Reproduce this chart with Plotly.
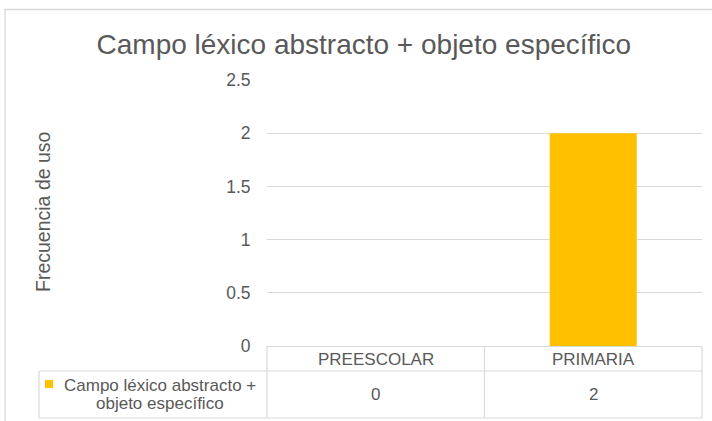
import plotly.graph_objects as go

# data
categories = ["PREESCOLAR", "PRIMARIA"]
values = [0, 2]
series_name = "Campo léxico abstracto + objeto específico"
series_label_lines = ["Campo léxico abstracto +", "objeto específico"]
y_ticks = [0, 0.5, 1, 1.5, 2, 2.5]
y_tick_text = ["0", "0.5", "1", "1.5", "2", "2.5"]

W, H = 712, 421
FONT = "Liberation Sans, Arial, sans-serif"
TXT = "#595959"
GRID = "#d9d9d9"
BAR = "#FFC000"


def px(x):
    return x / W


def py(y):
    return 1 - y / H


fig = go.Figure()
fig.add_trace(go.Bar(
    x=categories, y=values, name=series_name,
    marker=dict(color=BAR, line=dict(width=0)),
    width=0.4, showlegend=False, hoverinfo="x+y",
))

shapes = []
# outer chart border
shapes.append(dict(type="rect", xref="paper", yref="paper",
                   x0=px(5), x1=px(730), y0=py(440), y1=py(9.5),
                   line=dict(color=GRID, width=1.3), layer="below"))

# data table lines
tl = dict(color=GRID, width=1.2)
x_left, x_plot, x_mid, x_right = 39, 267, 484.5, 702
y_top, y_hdr, y_bot = 346.5, 371, 418
for (x0, y0, x1, y1) in [
    (x_plot, y_top, x_right, y_top),
    (x_left, y_hdr, x_right, y_hdr),
    (x_left, y_bot, x_right, y_bot),
    (x_left, y_hdr, x_left, y_bot),
    (x_plot, y_top, x_plot, y_bot),
    (x_mid, y_top, x_mid, y_bot),
    (x_right, y_top, x_right, y_bot),
]:
    shapes.append(dict(type="line", xref="paper", yref="paper",
                       x0=px(x0), x1=px(x1), y0=py(y0), y1=py(y1), line=tl))

# legend key square
shapes.append(dict(type="rect", xref="paper", yref="paper",
                   x0=px(45), x1=px(53), y0=py(388), y1=py(380),
                   fillcolor=BAR, line=dict(width=0)))

tfont = dict(size=17, color=TXT, family=FONT)
annotations = []
for cat, val in zip(categories, values):
    annotations.append(dict(x=cat, xref="x", y=py(359), yref="paper",
                            text=cat, showarrow=False, font=tfont,
                            xanchor="center", yanchor="middle"))
    annotations.append(dict(x=cat, xref="x", y=py(394), yref="paper",
                            text=str(val), showarrow=False, font=tfont,
                            xanchor="center", yanchor="middle"))

for i, line in enumerate(series_label_lines):
    annotations.append(dict(x=px(160), y=py(385 + 18 * i), xref="paper",
                            yref="paper", text=line, showarrow=False,
                            xanchor="center", yanchor="middle", font=tfont))

# y axis title
annotations.append(dict(x=px(43), y=py(212), xref="paper", yref="paper",
                        text="Frecuencia de uso", textangle=-90,
                        showarrow=False, xanchor="center", yanchor="middle",
                        font=dict(size=19.5, color=TXT, family=FONT)))

fig.update_layout(
    template="none",
    width=W, height=H,
    margin=dict(l=0, r=0, t=0, b=0, autoexpand=False),
    paper_bgcolor="white", plot_bgcolor="white",
    title=dict(text="Campo léxico abstracto + objeto específico",
               x=0.511, xanchor="center", y=py(44), yanchor="middle",
               font=dict(size=28, color=TXT, family=FONT)),
    xaxis=dict(domain=[px(x_plot), px(x_right)], showticklabels=False,
               showgrid=False, zeroline=False, showline=False,
               automargin=False, ticks=""),
    yaxis=dict(domain=[py(346), py(80)], range=[0, 2.5],
               tickvals=y_ticks, ticktext=y_tick_text,
               showgrid=True, gridcolor=GRID, gridwidth=1.3,
               zeroline=False, showline=False, automargin=False,
               ticks="outside", ticklen=12, tickcolor="rgba(0,0,0,0)",
               tickfont=dict(size=17.5, color=TXT, family=FONT)),
    shapes=shapes,
    annotations=annotations,
    bargap=0.6,
)

fig.write_html("out.html", config={"displayModeBar": False},
               post_script="document.body.style.margin='0';")
